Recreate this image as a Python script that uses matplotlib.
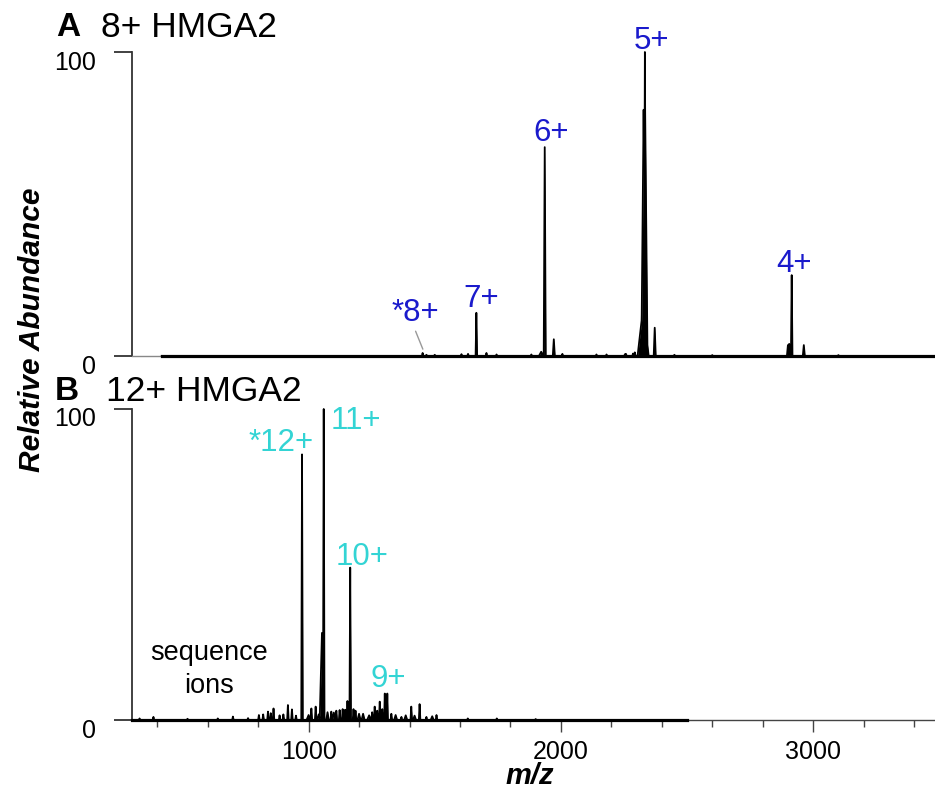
import numpy as np
import matplotlib
matplotlib.use("Agg")
import matplotlib.pyplot as plt
from matplotlib.transforms import ScaledTranslation

plt.rcParams['font.family'] = ['Liberation Sans', 'DejaVu Sans']

# ---------------- data ----------------
# Panel A: 8+ HMGA2 (m/z, relative intensity, half width)
a_mz = [1452, 1467, 1500, 1606, 1632, 1665, 1705, 1745, 1883, 1922, 1936, 1972, 2006,
        2141, 2181, 2254, 2258, 2286, 2293, 2326, 2328, 2331, 2334, 2333, 2372, 2450, 2600,
        2900, 2905, 2915, 2963, 3100]
a_int = [1.0, 0.4, 0.4, 0.6, 0.7, 14.2, 1.0, 0.5, 0.5, 1.4, 68.7, 5.5, 0.7,
         0.5, 0.5, 0.6, 0.7, 0.8, 1.2, 16, 81, 81, 81, 100, 9.3, 0.4, 0.3,
         3.6, 4, 26.6, 3.6, 0.3]
a_hw = [3, 3, 3, 3, 3, 3, 3, 3, 3, 9, 4, 4, 3,
        3, 3, 3, 3, 3, 3, 22, 9, 9, 9, 3, 4, 3, 3,
        4, 8, 3, 4, 3]
a_range = [418, 3483]
a_labels = ['*8+', '7+', '6+', '5+', '4+']
a_label_mz = [1425, 1683, 1960, 2361, 2924]
a_label_y = [14.1, 18.7, 73.5, 103.6, 30.3]

# Panel B: 12+ HMGA2
b_mz = [330, 385, 520, 640, 700, 760, 803, 820, 839, 850, 861, 885, 900, 918, 934, 950,
        974, 1000, 1011, 1028, 1040, 1053, 1060, 1075,
        1090, 1100, 1110, 1123, 1135, 1145, 1154, 1165, 1178, 1186, 1200, 1216, 1240,
        1252, 1262, 1272, 1282, 1292, 1302, 1312, 1328, 1345, 1368, 1385, 1407, 1420,
        1440, 1467, 1490, 1507, 1631, 1746, 1900]
b_int = [0.5, 1.0, 0.4, 0.5, 1.1, 0.6, 1.6, 1.8, 2.7, 2.2, 3.7, 1.5, 1.8, 4.8, 3.4, 1.4,
         85.4, 1.6, 3.7, 4.3, 1.8, 28, 100, 2.5,
         2.7, 2.4, 3.0, 3.2, 3.5, 3.3, 6.1, 49, 3.5, 3.0, 2.0, 2.0, 1.5,
         2.5, 4.3, 3.0, 5.9, 3.5, 8.5, 8.5, 2.0, 1.6, 1.0, 1.5, 4.3, 1.4,
         5.1, 1.0, 1.2, 1.6, 0.5, 0.5, 0.3]
b_hw = [3, 3, 3, 3, 3, 3, 3, 3, 3, 3, 3, 3, 3, 3, 3, 3,
        3, 8, 3, 3, 6, 9, 3, 5,
        3, 6, 3, 3, 3, 3, 3, 3, 3, 3, 6, 6, 8,
        3, 3, 3, 3, 3, 2.5, 2.5, 3, 6, 3, 6, 3, 6,
        3, 3, 6, 3, 3, 3, 3]
b_range = [300, 2500]
b_labels = ['*12+', '11+', '10+', '9+']
b_label_mz = [890, 1189, 1210, 1317]
b_label_y = [89.2, 96.1, 52.3, 13.2]

x_limits = [300, 3483]
y_ticks = [0, 100]
x_major = [1000, 2000, 3000]
x_minor = list(range(400, 3484, 200))

BLUE = '#1a1acc'
CYAN = '#33d4d4'


def profile(mz, inten, hw, rng):
    x = np.arange(rng[0], rng[1], 0.5)
    y = np.zeros_like(x)
    for m, h, w in zip(mz, inten, hw):
        y = np.maximum(y, h * np.clip(1 - np.abs(x - m) / w, 0, None))
    return x, y


fig = plt.figure(figsize=(9.35, 7.92), dpi=100)
axA = fig.add_axes([132 / 935, 1 - 356 / 792, 1 - 132 / 935, (356 - 52) / 792])
axB = fig.add_axes([132 / 935, 1 - 720 / 792, 1 - 132 / 935, (720 - 409) / 792])

for ax, mz, inten, hw, rng in [(axA, a_mz, a_int, a_hw, a_range),
                               (axB, b_mz, b_int, b_hw, b_range)]:
    x, y = profile(mz, inten, hw, rng)
    ax.fill_between(x, 0, y, color='black', lw=0, clip_on=False, zorder=3)
    ax.plot(x, y, color='black', lw=1.3, clip_on=False, zorder=3)
    ax.plot([x[0], x[-1]], [0, 0], color='black', lw=2.3, clip_on=False, zorder=3)
    ax.set_xlim(*x_limits)
    ax.set_ylim(0, 100)
    for s in ['top', 'right']:
        ax.spines[s].set_visible(False)
    ax.spines['left'].set_color('#333333')
    ax.spines['left'].set_linewidth(1.3)
    ax.set_yticks(y_ticks)
    ax.set_yticklabels([str(v) for v in y_ticks])
    ax.tick_params(axis='y', direction='out', length=13, width=1.3, color='#333333',
                   pad=13, labelsize=18)
    off = ScaledTranslation(0, -8 / 100, fig.dpi_scale_trans)
    for lab in ax.get_yticklabels():
        lab.set_transform(lab.get_transform() + off)

axA.spines['bottom'].set_color('#888888')
axA.spines['bottom'].set_linewidth(1.0)
axA.set_xticks([])

axB.spines['bottom'].set_color('#444444')
axB.spines['bottom'].set_linewidth(1.0)
axB.set_xticks(x_major)
axB.set_xticklabels([str(v) for v in x_major])
axB.set_xticks(x_minor, minor=True)
axB.tick_params(axis='x', which='major', direction='out', length=8.5, width=1.0,
                color='#444444', pad=6, labelsize=18)
axB.tick_params(axis='x', which='minor', direction='out', length=5, width=1.0,
                color='#444444')

# charge-state labels
for t, xm, yv in zip(a_labels, a_label_mz, a_label_y):
    axA.text(xm, yv, t, color=BLUE, fontsize=22.5, ha='center', va='center', clip_on=False)
axA.annotate('', xy=(a_mz[0] + 5, 1.4), xytext=(1420, 9.0),
             arrowprops=dict(arrowstyle='-', color='#999999', lw=1.0))
for t, xm, yv in zip(b_labels, b_label_mz, b_label_y):
    axB.text(xm, yv, t, color=CYAN, fontsize=22.5, ha='center', va='center', clip_on=False)

axB.text(604, 21.5, 'sequence', fontsize=19.5, ha='center', va='center')
axB.text(606, 10.9, 'ions', fontsize=19.5, ha='center', va='center')

# panel titles
fig.text(56 / 935, 1 - 27.5 / 792, 'A', fontsize=24, fontweight='bold', va='center', ha='left')
fig.text(101 / 935, 1 - 27.5 / 792, '8+ HMGA2', fontsize=25.5, va='center', ha='left')
fig.text(55 / 935, 1 - 391 / 792, 'B', fontsize=24, fontweight='bold', va='center', ha='left')
fig.text(106 / 935, 1 - 391 / 792, '12+ HMGA2', fontsize=25.5, va='center', ha='left')

fig.text(32 / 935, 1 - 330 / 792, 'Relative Abundance', fontsize=21.5, fontweight='bold',
         fontstyle='italic', rotation=90, va='center', ha='center')
fig.text(530 / 935, 1 - 776 / 792, 'm/z', fontsize=21, fontweight='bold',
         fontstyle='italic', va='center', ha='center')

fig.savefig('out.png', dpi=100)
